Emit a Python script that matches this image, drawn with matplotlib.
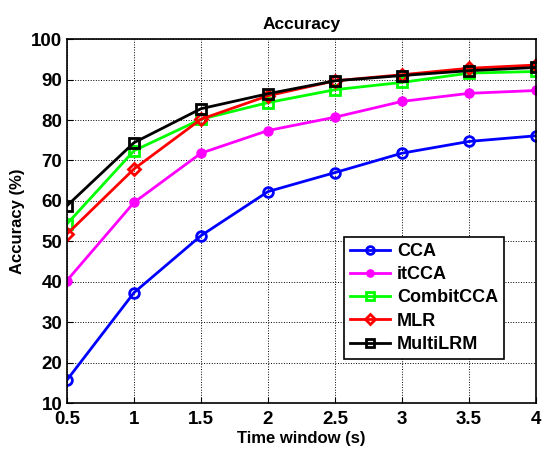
import matplotlib
matplotlib.use('Agg')
import matplotlib.pyplot as plt

plt.rcParams['font.family'] = ['Liberation Sans', 'DejaVu Sans']
plt.rcParams['font.weight'] = 'bold'

time_window = [0.5, 1, 1.5, 2, 2.5, 3, 3.5, 4]
cca = [15.7, 37.3, 51.4, 62.3, 67.0, 71.8, 74.7, 76.1]
itcca = [40.3, 59.6, 71.8, 77.4, 80.7, 84.6, 86.6, 87.3]
combitcca = [54.3, 72.4, 80.2, 84.3, 87.5, 89.3, 91.6, 92.0]
mlr = [51.8, 67.9, 80.2, 86.0, 89.7, 91.2, 92.8, 93.6]
multilrm = [58.8, 74.4, 82.8, 86.5, 89.7, 91.0, 92.2, 93.0]

fig = plt.figure(figsize=(5.42, 4.5), dpi=100)
ax = fig.add_axes([0.1236, 0.1044, 0.8654, 0.8086])

ax.plot(time_window, cca, 'b-o', lw=2, ms=7, mfc='none', mew=2, label='CCA')
ax.plot(time_window, itcca, '-o', color='magenta', lw=2, ms=6.5, label='itCCA')
ax.plot(time_window, combitcca, '-s', color='#00ff00', lw=2, ms=6.5, mfc='none', mew=2, label='CombitCCA')
ax.plot(time_window, mlr, 'r-D', lw=2, ms=6.5, mfc='none', mew=2, label='MLR')
ax.plot(time_window, multilrm, 'k-s', lw=2, ms=6.5, mfc='none', mew=2, label='MultiLRM')

ax.set_xlim(0.5, 4)
ax.set_ylim(10, 100)
ax.set_xticks(time_window)
ax.set_xticklabels(['0.5', '1', '1.5', '2', '2.5', '3', '3.5', '4'])
ax.set_yticks(range(10, 101, 10))
ax.tick_params(labelsize=13.5, direction='in', length=4)
ax.tick_params(axis='x', pad=6)
ax.grid(True, linestyle=':', color='k', linewidth=0.7)
for s in ax.spines.values():
    s.set_linewidth(1.2)

ax.set_xlabel('Time window (s)', fontsize=12, fontweight='bold', labelpad=2)
ax.set_ylabel('Accuracy (%)', fontsize=12, fontweight='bold')
ax.set_title('Accuracy', fontsize=12.5, fontweight='bold', pad=7)

leg = ax.legend(loc='lower right', bbox_to_anchor=(0.952, 0.095), fontsize=13,
                fancybox=False, framealpha=1, edgecolor='k', handlelength=2.2,
                handletextpad=0.4, labelspacing=0.35, borderpad=0.35, markerscale=0.8)
leg.get_frame().set_linewidth(1.2)

fig.savefig('out.png', dpi=100)
